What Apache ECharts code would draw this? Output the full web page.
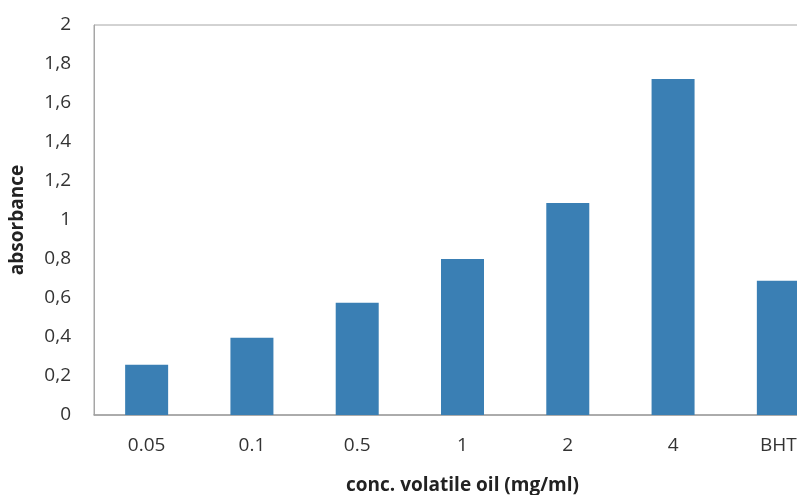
<!DOCTYPE html>
<html>
<head>
<meta charset="utf-8">
<script src="https://cdn.jsdelivr.net/npm/echarts@6/dist/echarts.min.js"></script>
<style>html,body{margin:0;padding:0;background:#fff;}#c{width:797px;height:495px;}</style>
</head>
<body>
<div id="c"></div>
<script>
var categories = ['0.05', '0.1', '0.5', '1', '2', '4', 'BHT'];
var absorbance = [0.258, 0.396, 0.576, 0.80, 1.087, 1.723, 0.689];
var yMin = 0, yMax = 2, yStep = 0.2;

var chart = echarts.init(document.getElementById('c'));
chart.setOption({
  animation: false,
  grid: { left: 94, top: 25, width: 737, height: 390, outerBoundsMode: 'none', containLabel: false, show: true, borderColor: '#a6a6a6', borderWidth: 1, backgroundColor: 'transparent' },
  xAxis: {
    type: 'category',
    data: categories,
    name: 'conc. volatile oil (mg/ml)',
    nameLocation: 'middle',
    nameGap: 61,
    nameTextStyle: { fontFamily: 'Open Sans', fontWeight: 'bold', fontSize: 19, color: '#222' },
    axisLine: { lineStyle: { color: '#a0a0a0', width: 1.5 } },
    axisTick: { show: false },
    axisLabel: { fontFamily: 'Open Sans', fontSize: 19, color: '#333', margin: 21 }
  },
  yAxis: {
    type: 'value',
    min: yMin, max: yMax, interval: yStep,
    name: 'absorbance',
    nameLocation: 'middle',
    nameGap: 67,
    nameTextStyle: { fontFamily: 'Open Sans', fontWeight: 'bold', fontSize: 19, color: '#222' },
    axisLine: { show: true, lineStyle: { color: '#a6a6a6' } },
    axisTick: { show: false },
    splitLine: { show: false },
    axisLabel: {
      fontFamily: 'Open Sans', fontSize: 19, color: '#333', margin: 23,
      formatter: function (v) { return String(Math.round(v * 10) / 10).replace('.', ','); }
    }
  },
  series: [{
    type: 'bar',
    data: absorbance,
    barWidth: 43,
    itemStyle: { color: '#3a7fb4' }
  }]
});
</script>
</body>
</html>
